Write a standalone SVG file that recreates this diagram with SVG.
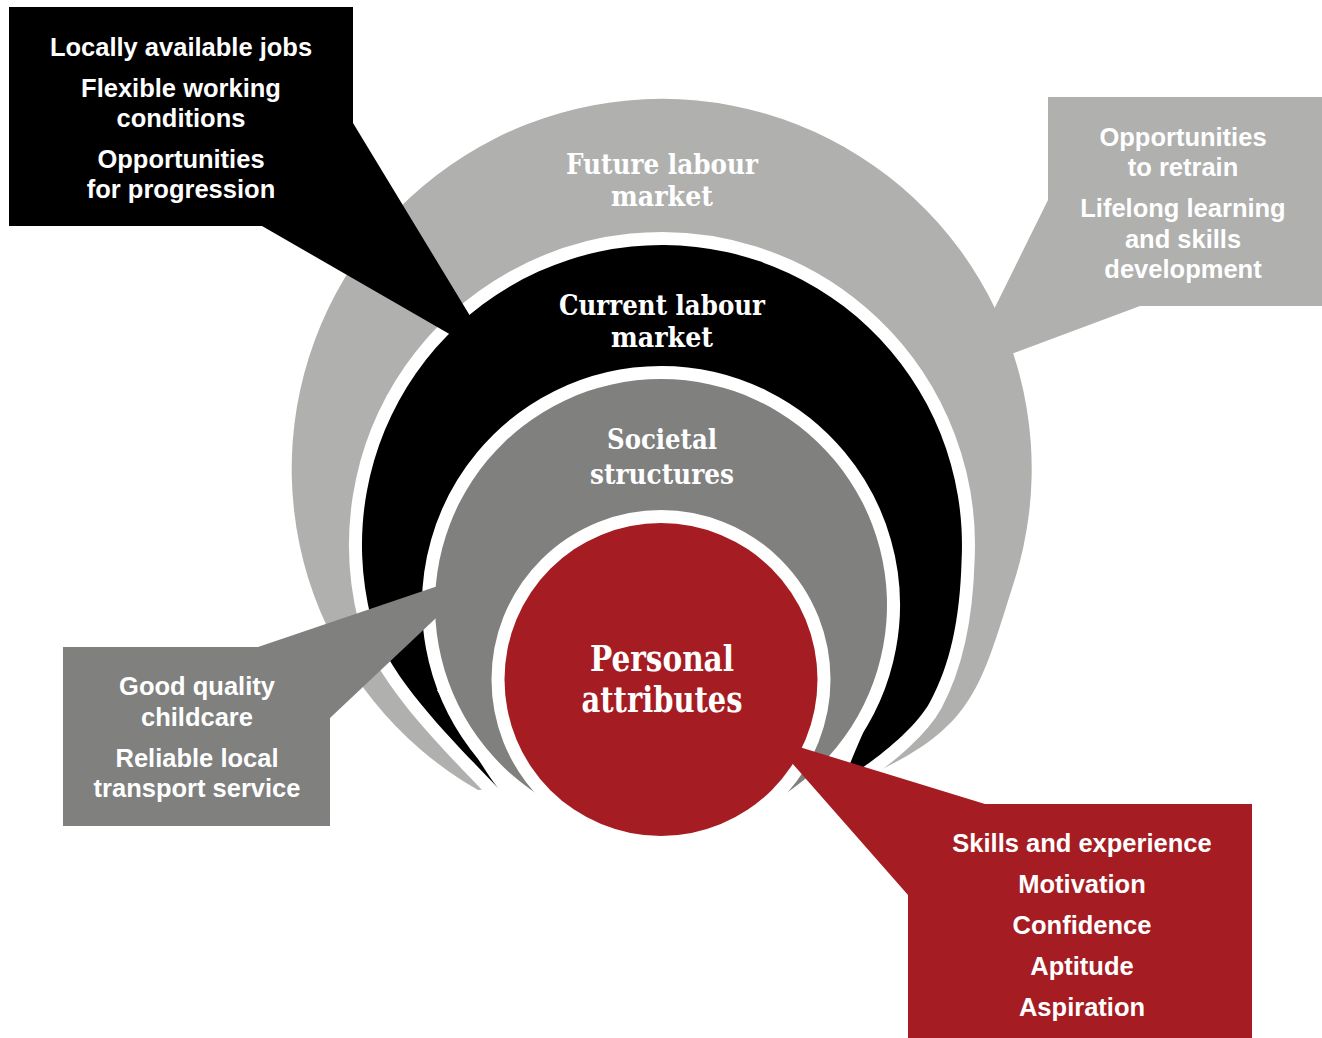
<svg xmlns="http://www.w3.org/2000/svg" width="1322" height="1038" viewBox="0 0 1322 1038">
  <style>
    .lg { fill: #b0b0af; }
    .bk { fill: #000000; }
    .mg { fill: #80807f; }
    .rd { fill: #a51d23; }
    .halo { stroke: #ffffff; stroke-width: 26; paint-order: stroke; stroke-linejoin: round; }
    .ring { font-family: "DejaVu Serif", "Liberation Serif", serif; font-weight: bold; fill: #ffffff; text-anchor: middle; }
    .call { font-family: "Liberation Sans", Arial, sans-serif; font-weight: bold; font-size: 25.5px; fill: #ffffff; text-anchor: middle; }
  </style>
  <rect width="1322" height="1038" fill="#ffffff"/>

  <g id="ring-future">
    <path class="lg" d="M 478,790 A 370 370 0 1 1 1014.6,580 C 981.3,684.8 975,725 878,771 L 838,790 L 862,768 C 884,753 917,726 930,702 C 950,665 960,620 961.6,560 A 300 300 0 1 0 371.5,620 C 386.5,678 464,751.5 498,788 Z"/>
  </g>
  <g id="ring-current">
    <path class="bk halo" d="M 498,788 C 464,751.5 386.5,678 371.5,620 A 300 300 0 1 1 961.6,560 C 960,620 950,665 930,702 C 917,726 884,753 862,768 L 838,790 C 848,772 860,735 879,700 L 760,640 L 560,640 L 437,690 C 455,720 480,765 498,788 Z"/>
  </g>
  <g id="ring-societal">
    <path class="mg halo" d="M 550.8,802.3 A 226 226 0 1 1 771.2,802.3 A 165 165 0 1 0 550.8,802.3 Z"/>
  </g>
  <g id="ring-personal">
    <circle class="rd halo" cx="661" cy="679.5" r="156.5"/>
  </g>

  <g id="connectors">
    <path id="callout-current-shape" class="bk" d="M 9,7 H 353 V 123 L 498,362 L 262,226 H 9 Z"/>
    <path id="callout-future-shape" class="lg" d="M 1048,97 H 1322 V 306 H 1140 L 963,372 L 1048,200 Z"/>
    <path id="callout-societal-shape" class="mg" d="M 63,647 H 258 L 488,569 L 330,718 V 826 H 63 Z"/>
    <path id="callout-personal-shape" class="rd" d="M 985,804 H 1252 V 1038 H 908 V 895 L 770,738 Z"/>
  </g>

  <g id="labels-rings">
    <text class="ring" x="662" y="174" font-size="27" textLength="192" lengthAdjust="spacingAndGlyphs">Future labour</text>
    <text class="ring" x="662" y="206" font-size="27" textLength="102" lengthAdjust="spacingAndGlyphs">market</text>
    <text class="ring" x="662" y="315" font-size="27" textLength="206" lengthAdjust="spacingAndGlyphs">Current labour</text>
    <text class="ring" x="662" y="347" font-size="27" textLength="102" lengthAdjust="spacingAndGlyphs">market</text>
    <text class="ring" x="662" y="449" font-size="28" textLength="110" lengthAdjust="spacingAndGlyphs">Societal</text>
    <text class="ring" x="662" y="484" font-size="28" textLength="144" lengthAdjust="spacingAndGlyphs">structures</text>
    <text class="ring" x="662" y="671" font-size="35" textLength="144" lengthAdjust="spacingAndGlyphs">Personal</text>
    <text class="ring" x="662" y="712" font-size="35" textLength="161" lengthAdjust="spacingAndGlyphs">attributes</text>
  </g>

  <g id="callout-current">
    <text class="call" x="181" y="56">Locally available jobs</text>
    <text class="call" x="181" y="97">Flexible working</text>
    <text class="call" x="181" y="127">conditions</text>
    <text class="call" x="181" y="168">Opportunities</text>
    <text class="call" x="181" y="198">for progression</text>
  </g>
  <g id="callout-future">
    <text class="call" x="1183" y="146">Opportunities</text>
    <text class="call" x="1183" y="176">to retrain</text>
    <text class="call" x="1183" y="217">Lifelong learning</text>
    <text class="call" x="1183" y="248">and skills</text>
    <text class="call" x="1183" y="278">development</text>
  </g>
  <g id="callout-societal">
    <text class="call" x="197" y="695">Good quality</text>
    <text class="call" x="197" y="726">childcare</text>
    <text class="call" x="197" y="767">Reliable local</text>
    <text class="call" x="197" y="797">transport service</text>
  </g>
  <g id="callout-personal">
    <text class="call" x="1082" y="852">Skills and experience</text>
    <text class="call" x="1082" y="893">Motivation</text>
    <text class="call" x="1082" y="934">Confidence</text>
    <text class="call" x="1082" y="975">Aptitude</text>
    <text class="call" x="1082" y="1016">Aspiration</text>
  </g>
</svg>
